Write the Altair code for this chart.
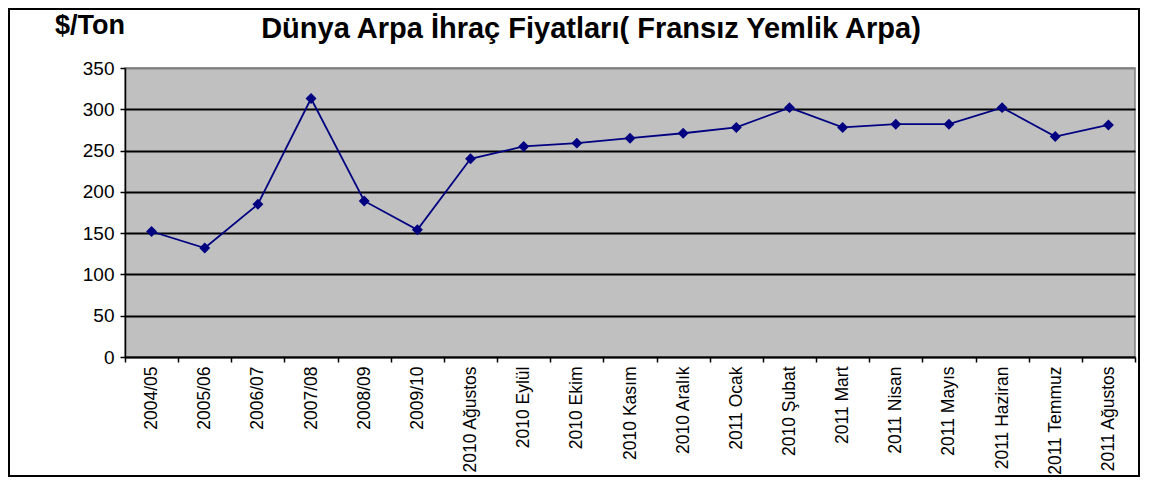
import altair as alt
import pandas as pd

categories = [
    "2004/05", "2005/06", "2006/07", "2007/08", "2008/09", "2009/10",
    "2010 Ağustos", "2010 Eylül", "2010 Ekim", "2010 Kasım", "2010 Aralık",
    "2011 Ocak", "2010 Şubat", "2011 Mart", "2011 Nisan", "2011 Mayıs",
    "2011 Haziran", "2011 Temmuz", "2011 Ağustos",
]
values = [152, 132, 185, 313, 189, 154, 240, 255, 259, 265, 271,
          278, 302, 278, 282, 282, 302, 267, 281]
y_ticks = [0, 50, 100, 150, 200, 250, 300, 350]
title_text = "Dünya Arpa İhraç Fiyatları( Fransız Yemlik Arpa)"
unit_text = "$/Ton"

df = pd.DataFrame({"cat": categories, "val": values})

FONT = "Liberation Sans"
NAVY = "#000080"

x_enc = alt.X(
    "cat:N",
    sort=categories,
    bandPosition=0.5,
    scale=alt.Scale(type="band", paddingInner=0, paddingOuter=0),
    axis=alt.Axis(
        title=None,
        labelAngle=-90,
        labelFont=FONT,
        labelFontSize=17.5,
        labelColor="black",
        labelPadding=4,
        tickBand="extent",
        tickSize=5,
        tickColor="black",
        tickWidth=1.5,
        domainColor="black",
        domainWidth=1.5,
        grid=False,
    ),
)
y_enc = alt.Y(
    "val:Q",
    scale=alt.Scale(domain=[0, 350], nice=False),
    axis=alt.Axis(
        title=None,
        values=y_ticks,
        labelFont=FONT,
        labelFontSize=19,
        labelColor="black",
        labelPadding=6,
        tickSize=5,
        tickColor="black",
        tickWidth=1.5,
        domainColor="black",
        domainWidth=1.5,
        grid=True,
        gridColor={"condition": {"test": "datum.value == 350", "value": "#808080"}, "value": "black"},
        gridWidth=1.8,
    ),
)

base = alt.Chart(df)
line = base.mark_line(color=NAVY, strokeWidth=1.8).encode(x=x_enc, y=y_enc)
pts = base.mark_point(shape="diamond", filled=True, color=NAVY, size=120, opacity=1).encode(x=x_enc, y=y_enc)

title_df = pd.DataFrame({"t": [title_text]})
title = alt.Chart(title_df).mark_text(
    font=FONT, fontSize=29, fontWeight="bold", color="black",
    align="center", baseline="alphabetic",
).encode(text="t:N", x=alt.value(466), y=alt.value(-30))

unit_df = pd.DataFrame({"t": [unit_text]})
unit = alt.Chart(unit_df).mark_text(
    font=FONT, fontSize=27, fontWeight="bold", color="black",
    align="left", baseline="alphabetic",
).encode(text="t:N", x=alt.value(-70), y=alt.value(-34))

frame_df = pd.DataFrame({"f": [1]})
frame = alt.Chart(frame_df).mark_rect(
    fillOpacity=0, stroke="black", strokeWidth=2,
).encode(x=alt.value(-116), x2=alt.value(1014), y=alt.value(-59), y2=alt.value(408))

chart = alt.layer(line, pts, title, unit, frame).properties(
    width=1010,
    height=289,
    autosize=alt.AutoSizeParams(type="none"),
    padding={"left": 117, "top": 60, "right": 6, "bottom": 120},
    background="white",
).configure_view(
    fill="#C0C0C0",
    stroke="#808080",
    strokeWidth=1.5,
)

chart.save("out.html", embed_options={"renderer": "svg", "actions": False})
